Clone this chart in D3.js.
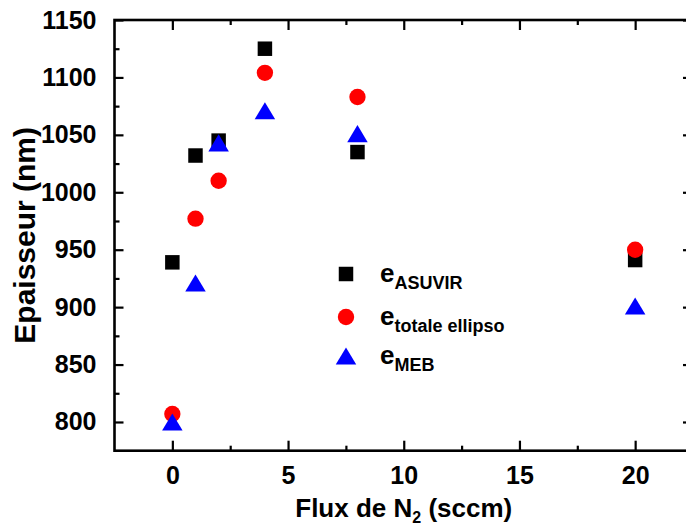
<!DOCTYPE html>
<html><head><meta charset="utf-8">
<script src="https://cdn.jsdelivr.net/npm/d3@7"></script>
<style>
body{margin:0;background:#fff;}
svg{display:block;font-family:"Liberation Sans",Arial,sans-serif;font-weight:bold;}
</style></head>
<body><svg id="c" width="686" height="527"></svg>
<script>
// ---- data ----
const fluxN2 = [0, 1, 2, 4, 8, 20];
const eASUVIR = [939, 1032, 1045, 1125, 1035, 941];
const eTotaleEllipso = [807, 977, 1010, 1104, 1083, 950];
const eMEB = [800, 921, 1043, 1071, 1051, 901];
const xTicks = [0, 5, 10, 15, 20];
const xMinorTicks = [2.5, 7.5, 12.5, 17.5];
const yTicks = [800, 850, 900, 950, 1000, 1050, 1100, 1150];
const yMinorTicks = [825, 875, 925, 975, 1025, 1075, 1125];
const seriesNames = ["ASUVIR", "totale ellipso", "MEB"];
const seriesColors = ["#000000", "#ff0000", "#0000ff"];

const svg = d3.select("#c");
const L = 114.5, R = 693, T = 20, B = 450.7;
const x = d3.scaleLinear().domain([-2.5, 22.5]).range([L, R]);
const y = d3.scaleLinear().domain([775, 1150]).range([B, T]);

// bbox-centred triangle symbol
const triBox = {draw(ctx, size){ const s = Math.sqrt(size); const hw = s/2, hh = s*0.42;
  ctx.moveTo(0,-hh); ctx.lineTo(hw,hh); ctx.lineTo(-hw,hh); ctx.closePath(); }};
const symbols = [d3.symbol(d3.symbolSquare, 210), d3.symbol(d3.symbolCircle, 210), d3.symbol(triBox, 420)];
const seriesVals = [eASUVIR, eTotaleEllipso, eMEB];

// axes
function styleAxis(g){ g.select(".domain").remove(); g.selectAll("line").attr("stroke","#000").attr("stroke-width",2.2); }
const fs = "25px";
svg.append("g").attr("transform",`translate(0,${B})`)
  .call(d3.axisBottom(x).tickValues(xTicks).tickSizeInner(-10).tickSizeOuter(0).tickPadding(16).tickFormat(d3.format("d")))
  .call(styleAxis).call(g=>g.selectAll("text").attr("font-size",fs).attr("fill","#000").attr("font-family","Liberation Sans, Arial").attr("font-weight","bold"));
svg.append("g").attr("transform",`translate(0,${B})`)
  .call(d3.axisBottom(x).tickValues(xMinorTicks).tickSizeInner(-5).tickSizeOuter(0).tickFormat(""))
  .call(styleAxis);
svg.append("g").attr("transform",`translate(0,${T})`)
  .call(d3.axisTop(x).tickValues(xTicks).tickSizeInner(-10).tickSizeOuter(0).tickFormat(""))
  .call(styleAxis);
svg.append("g").attr("transform",`translate(0,${T})`)
  .call(d3.axisTop(x).tickValues(xMinorTicks).tickSizeInner(-5).tickSizeOuter(0).tickFormat(""))
  .call(styleAxis);
svg.append("g").attr("transform",`translate(${L},0)`)
  .call(d3.axisLeft(y).tickValues(yTicks).tickSizeInner(-9).tickSizeOuter(0).tickPadding(18).tickFormat(d3.format("d")))
  .call(styleAxis).call(g=>g.selectAll("text").attr("font-size",fs).attr("fill","#000").attr("font-family","Liberation Sans, Arial").attr("font-weight","bold"));
svg.append("g").attr("transform",`translate(${L},0)`)
  .call(d3.axisLeft(y).tickValues(yMinorTicks).tickSizeInner(-5).tickSizeOuter(0).tickFormat(""))
  .call(styleAxis);
svg.append("g").attr("transform",`translate(${R},0)`)
  .call(d3.axisRight(y).tickValues(yTicks).tickSizeInner(-10).tickSizeOuter(0).tickFormat(""))
  .call(styleAxis);
svg.append("g").attr("transform",`translate(${R},0)`)
  .call(d3.axisRight(y).tickValues(yMinorTicks).tickSizeInner(-5).tickSizeOuter(0).tickFormat(""))
  .call(styleAxis);
svg.append("rect").attr("x",L).attr("y",T).attr("width",R-L).attr("height",B-T)
  .attr("fill","none").attr("stroke","#000").attr("stroke-width",2.6);

// points
seriesVals.forEach((vals,i)=>{
  svg.append("g").selectAll("path").data(fluxN2.map((f,j)=>[f,vals[j]])).join("path")
    .attr("d",symbols[i]).attr("fill",seriesColors[i])
    .attr("transform",d=>`translate(${x(d[0])},${y(d[1])})`);
});

// legend
const legY = [274, 317, 356];
seriesNames.forEach((n,i)=>{
  svg.append("path").attr("d",symbols[i]).attr("fill",seriesColors[i])
    .attr("transform",`translate(346,${legY[i]})`);
  const t = svg.append("text").attr("x",380).attr("y",legY[i]+8).attr("font-size","26px").attr("fill","#000");
  t.append("tspan").text("e");
  t.append("tspan").attr("dy",7).attr("font-size","18px").text(n);
});

// axis titles
const xt = svg.append("text").attr("x",(L+R)/2).attr("y",517).attr("text-anchor","middle").attr("font-size","26px").attr("fill","#000");
xt.append("tspan").text("Flux de N");
xt.append("tspan").attr("dy",6).attr("font-size","16px").text("2");
xt.append("tspan").attr("dy",-6).text(" (sccm)");
svg.append("text").attr("transform",`translate(35,${(T+B)/2}) rotate(-90)`).attr("text-anchor","middle")
  .attr("font-size","30px").attr("fill","#000").text("Epaisseur (nm)");
</script></body></html>
